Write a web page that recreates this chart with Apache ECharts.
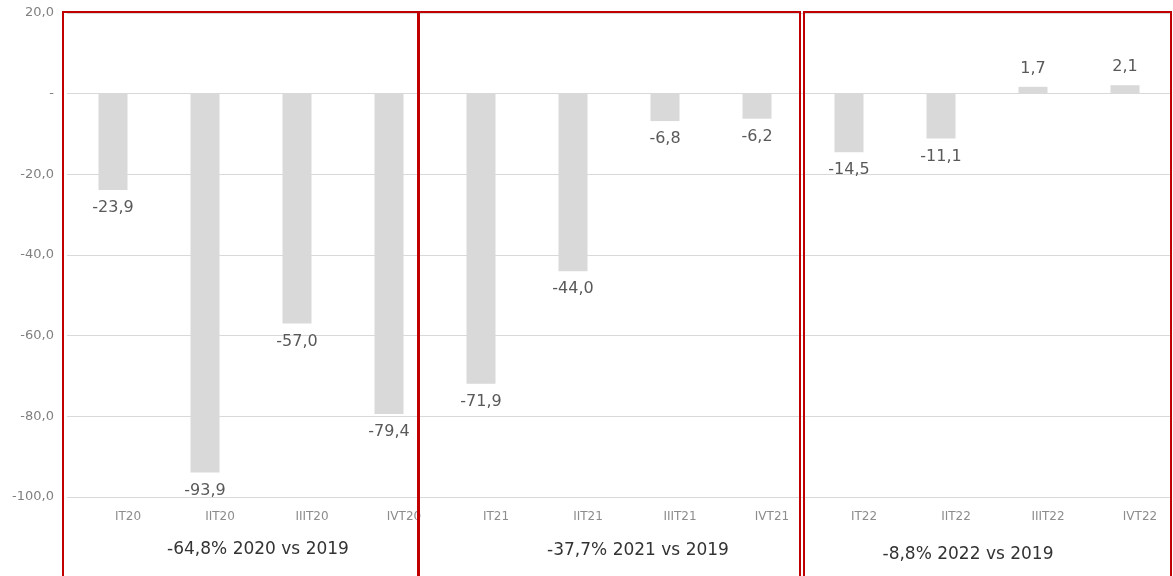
<!DOCTYPE html>
<html>
<head>
<meta charset="utf-8">
<script src="https://cdn.jsdelivr.net/npm/echarts@6/dist/echarts.min.js"></script>
<style>
  html, body { margin: 0; padding: 0; background: #fff; }
  #chart { width: 1173px; height: 576px; }
</style>
</head>
<body>
<div id="chart"></div>
<script>
// 季度类目
let categories = ['IT20', 'IIT20', 'IIIT20', 'IVT20', 'IT21', 'IIT21', 'IIIT21', 'IVT21', 'IT22', 'IIT22', 'IIIT22', 'IVT22'];
// 与2019相比的变化 (%)
let values = [-23.9, -93.9, -57.0, -79.4, -71.9, -44.0, -6.8, -6.2, -14.5, -11.1, 1.7, 2.1];
// 年度分组说明
let groupLabels = ['-64,8% 2020 vs 2019', '-37,7% 2021 vs 2019', '-8,8% 2022 vs 2019'];

let fontFamily = '"DejaVu Sans", sans-serif';

// 数字格式：逗号小数，0 显示为 -
function fmt(v) {
    if (v === 0) {
        return '-';
    }
    return v.toFixed(1).replace('.', ',');
}

// 红色框
let boxes = [
    {x: 63, w: 355},
    {x: 418, w: 382},
    {x: 804, w: 367}
];
let groupX = [258, 638, 968];
let groupY = [550, 551, 555];

let graphics = [];
for (let i = 0; i < boxes.length; i++) {
    graphics.push({
        type: 'rect',
        shape: {x: boxes[i].x, y: 12, width: boxes[i].w, height: 620},
        style: {fill: 'none', stroke: '#c00000', lineWidth: 2},
        z: 100
    });
}
// 分隔线加粗
graphics.push({
    type: 'rect',
    shape: {x: 417, y: 12, width: 3, height: 620},
    style: {fill: '#c00000'},
    z: 100
});
for (let i = 0; i < groupLabels.length; i++) {
    graphics.push({
        type: 'text',
        x: groupX[i],
        y: groupY[i],
        style: {
            text: groupLabels[i],
            fill: '#333333',
            font: '17px ' + fontFamily,
            align: 'center',
            verticalAlign: 'middle'
        },
        z: 100
    });
}

let option = {
    animation: false,
    backgroundColor: '#ffffff',
    grid: {left: 67, right: 2, top: 13, bottom: 79},
    xAxis: {
        type: 'category',
        data: categories,
        axisLine: {show: false},
        axisTick: {show: false},
        axisLabel: {
            color: '#8c8c8c',
            fontSize: 12,
            fontFamily: fontFamily,
            margin: 14,
            padding: [0, 0, 0, 30],
            interval: 0
        }
    },
    yAxis: {
        type: 'value',
        min: -100,
        max: 20,
        interval: 20,
        axisLine: {show: false},
        axisTick: {show: false},
        splitLine: {lineStyle: {color: '#d9d9d9', width: 1}},
        axisLabel: {
            color: '#808080',
            fontSize: 13,
            fontFamily: fontFamily,
            margin: 13,
            formatter: fmt
        }
    },
    series: [{
        type: 'bar',
        data: values,
        barWidth: 29,
        itemStyle: {color: '#d9d9d9'},
        label: {
            show: true,
            position: 'outside',
            distance: 10,
            color: '#595959',
            fontSize: 16,
            fontFamily: fontFamily,
            formatter: function (p) {
                return fmt(p.value);
            }
        }
    }],
    graphic: graphics
};

let chart = echarts.init(document.getElementById('chart'));
chart.setOption(option);
</script>
</body>
</html>
